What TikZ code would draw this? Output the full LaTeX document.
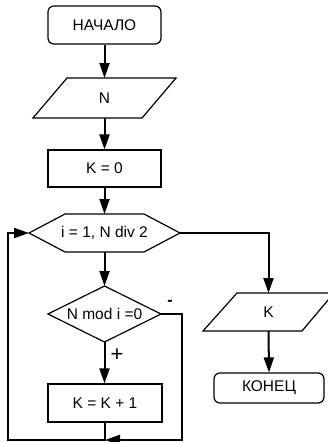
\documentclass[tikz,border=0pt]{standalone}
\usepackage{fontspec}
\setmainfont{Liberation Sans}
\usetikzlibrary{arrows.meta}
\begin{document}
\begin{tikzpicture}[x=1pt,y=-1pt,
  shapeline/.style={draw=black,line width=1.2pt,line join=miter},
  termbox/.style={draw=black,line width=1.2pt,rounded corners=6pt,inner sep=0pt},
  procbox/.style={draw=black,line width=1.2pt,inner sep=0pt},
  txt/.style={font=\fontsize{15.5}{18}\selectfont,inner sep=0pt},
  flow/.style={draw=black,line width=2pt,-{Triangle[length=15pt,width=10pt]}},
  plain/.style={draw=black,line width=2pt},
  lbl/.style={font=\fontsize{22}{24}\selectfont,inner sep=0pt}]
\useasboundingbox (0,0) rectangle (328,442);
\fill[white] (0,0) rectangle (328,442);

% start
\node[termbox,txt,minimum width=113pt,minimum height=38pt] (start) at (104.5,25) {НАЧАЛО};

% input N
\draw[shapeline] (67,78) -- (176,78) -- (142,118) -- (33,118) -- cycle;
\node[txt] (inN) at (104.5,98) {N};
\coordinate (inNtop) at (104.5,78);
\coordinate (inNbot) at (104.5,118);

% K = 0
\node[procbox,txt,minimum width=113pt,minimum height=37pt] (k0) at (104.5,168.5) {K = 0};

% loop hexagon
\draw[shapeline] (29,233) -- (65,214) -- (144,214) -- (180,233) -- (144,252) -- (65,252) -- cycle;
\node[txt] (loop) at (104.5,233) {i = 1, N div 2};
\coordinate (looptop) at (104.5,214);
\coordinate (loopbot) at (104.5,252);
\coordinate (loopleft) at (29,233);
\coordinate (loopright) at (180,233);

% condition diamond
\draw[shapeline] (48,314) -- (104.5,286) -- (161,314) -- (104.5,342) -- cycle;
\node[txt] (cond) at (104.5,314) {N mod i =0};
\coordinate (condtop) at (104.5,286);
\coordinate (condbot) at (104.5,342);
\coordinate (condright) at (161,314);

% K = K + 1
\node[procbox,txt,minimum width=114pt,minimum height=38pt] (k1) at (105,403) {K = K + 1};

% output K
\draw[shapeline] (237,293) -- (334,293) -- (302,331) -- (203,331) -- cycle;
\node[txt] (outK) at (268.5,312) {K};
\coordinate (outtop) at (268.5,293);
\coordinate (outbot) at (268.5,331);

% end
\node[termbox,txt,minimum width=110pt,minimum height=30pt] (end) at (269,388) {КОНЕЦ};

% connectors
\draw[flow] (start.south) -- (inNtop);
\draw[flow] (inNbot) -- (k0.north);
\draw[flow] (k0.south) -- (looptop);
\draw[flow] (loopbot) -- (condtop);
\draw[flow] (condbot) -- (k1.north -| condbot);
\coordinate (joinpt) at (105,440);
\draw[flow] (condright) -- (182,314) -- (182,440) -- (joinpt);
\draw[flow] (k1.south) -- (joinpt) -- (8,440) -- (8,233) -- (loopleft);
\draw[flow] (loopright) -- (268.5,233) -- (outtop);
\draw[flow] (outbot) -- (end.north);

% labels
\node[lbl] (plus) at (117,355) {+};
\node[lbl,font=\fontsize{16}{18}\selectfont\bfseries] (minus) at (170,303) {-};
\end{tikzpicture}
\end{document}
